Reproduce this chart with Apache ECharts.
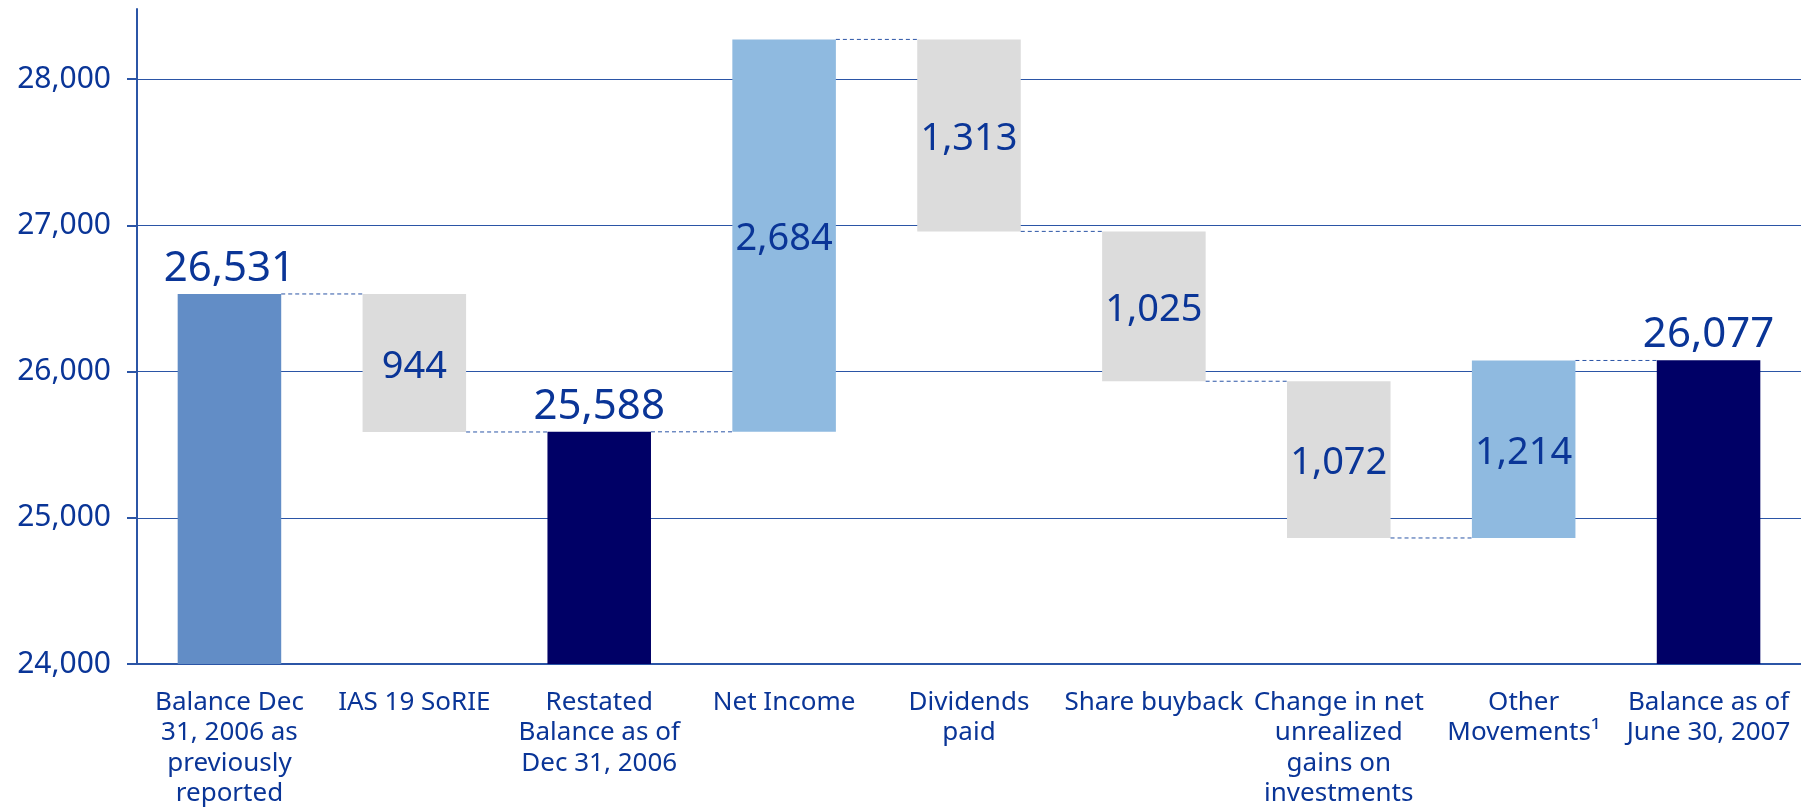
<!DOCTYPE html>
<html>
<head>
<meta charset="utf-8">
<script src="https://cdn.jsdelivr.net/npm/echarts@6/dist/echarts.min.js"></script>
<style>
  html, body { margin: 0; padding: 0; background: #fff; }
  #waterfallChart { width: 1801px; height: 812px; }
</style>
</head>
<body>
<div id="waterfallChart"></div>
<script>
// 类目（x轴）
let categories = [
  'Balance Dec\n31, 2006 as\npreviously\nreported',
  'IAS 19 SoRIE',
  'Restated\nBalance as of\nDec 31, 2006',
  'Net Income',
  'Dividends\npaid',
  'Share buyback',
  'Change in net\nunrealized\ngains on\ninvestments',
  'Other\nMovements¹',
  'Balance as of\nJune 30, 2007'
]
// 每一步：total 为余额，delta 为变动
let stepValues = [26531, -944, 25588, 2684, -1313, -1025, -1072, 1214, 26077]
let stepKinds = ['total', 'delta', 'total', 'delta', 'delta', 'delta', 'delta', 'delta', 'total']
let barColors = ['#628dc6', '#dcdcdc', '#000066', '#8fbae0', '#dcdcdc', '#dcdcdc', '#dcdcdc', '#8fbae0', '#000066']
// y轴刻度
let yTicks = [24000, 25000, 26000, 27000, 28000]

let textColor = '#0a3597'
let lineColor = '#2b55a6'
let fontName = "'Noto Sans', 'Open Sans', sans-serif"
let barRatio = 0.56

// 计算透明底座、可见柱和连接线
let baseData = []
let barData = []
let linkData = []
let running = 0
stepValues.forEach(function (v, i) {
  let prev = running
  let isTotal = stepKinds[i] === 'total'
  if (isTotal) {
    running = v
    baseData.push(0)
    barData.push({
      value: v,
      itemStyle: {color: barColors[i]},
      label: {show: true, position: 'top', distance: 4, fontSize: 42}
    })
  } else {
    running = prev + v
    baseData.push(Math.min(prev, running))
    barData.push({
      value: Math.abs(v),
      itemStyle: {color: barColors[i]},
      label: {show: true, position: 'inside', offset: [0, 4], fontSize: 38}
    })
  }
  if (i < stepValues.length - 1) {
    linkData.push([i, running])
  }
})

let chart = echarts.init(document.getElementById('waterfallChart'))
chart.setOption({
  animation: false,
  grid: {left: 137, right: 0, top: 9, bottom: 148},
  xAxis: {
    type: 'category',
    data: categories,
    axisLine: {lineStyle: {color: lineColor, width: 2}},
    axisTick: {show: false},
    axisLabel: {
      interval: 0,
      margin: 23,
      color: textColor,
      fontFamily: fontName,
      fontSize: 26,
      lineHeight: 30.5
    }
  },
  yAxis: {
    type: 'value',
    min: 24000,
    max: 28480,
    interval: 1000,
    axisLine: {show: true, lineStyle: {color: lineColor, width: 2}},
    axisTick: {show: true, length: 10, customValues: yTicks, lineStyle: {color: lineColor, width: 2}},
    axisLabel: {
      customValues: yTicks,
      margin: 26,
      color: textColor,
      fontFamily: fontName,
      fontSize: 30,
      formatter: function (v) {
        return echarts.format.addCommas(v)
      }
    },
    splitLine: {show: true, lineStyle: {color: lineColor, width: 1}}
  },
  series: [
    {
      name: 'base',
      type: 'bar',
      stack: 'waterfall',
      barWidth: (barRatio * 100) + '%',
      itemStyle: {color: 'rgba(0,0,0,0)'},
      silent: true,
      data: baseData
    },
    {
      name: 'value',
      type: 'bar',
      stack: 'waterfall',
      barWidth: (barRatio * 100) + '%',
      label: {
        color: textColor,
        fontFamily: fontName,
        formatter: function (p) {
          return echarts.format.addCommas(p.value)
        }
      },
      data: barData
    },
    {
      // 柱与柱之间的虚线连接
      name: 'link',
      type: 'custom',
      silent: true,
      z: 3,
      encode: {x: 0, y: 1},
      renderItem: function (params, api) {
        let i = api.value(0)
        let p = api.coord([i, api.value(1)])
        let band = api.size([1, 0])[0]
        let half = band * barRatio / 2
        return {
          type: 'line',
          shape: {x1: p[0] + half, y1: p[1], x2: p[0] + band - half, y2: p[1]},
          style: {stroke: lineColor, lineWidth: 1, lineDash: [4, 3]}
        }
      },
      data: linkData
    }
  ]
})
</script>
</body>
</html>
